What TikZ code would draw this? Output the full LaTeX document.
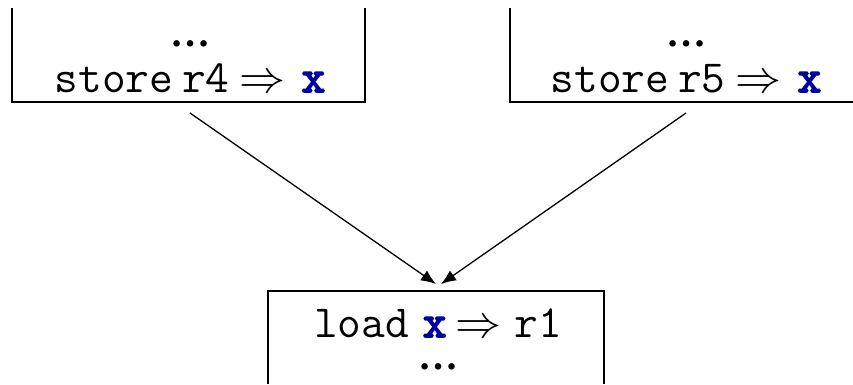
\documentclass[tikz,border=0pt]{standalone}
\usepackage{fontspec}
\newfontfamily\dotsfont{Liberation Serif}
\newfontfamily\boldmono[FakeBold=3.5]{Latin Modern Mono}
\usetikzlibrary{arrows.meta}
\definecolor{varblue}{RGB}{0,0,160}
\newcommand{\vx}{\textcolor{varblue}{\boldmono x}}
\newcommand{\imp}{\scalebox{4.6}{\fontsize{10}{12}\selectfont$\Rightarrow$}}
\newcommand{\dts}{{\fontsize{40}{44}\selectfont\dotsfont\bfseries\symbol{"2026}}}
\begin{document}
\begin{tikzpicture}[x=1pt,y=-1pt,
  frame/.style={line width=2pt},
  code/.style={font=\fontsize{46}{50}\selectfont\ttfamily, inner sep=0pt, align=center, anchor=base},
  flow/.style={line width=1.3pt, -{Latex[length=15pt,width=12pt]}}]
\useasboundingbox (0,0) rectangle (853,384);
% block outlines (open where they run off the page)
\draw[frame] (12,8) -- (12,102) -- (365,102) -- (365,8);
\draw[frame] (510,8) -- (510,102) -- (853,102);
\draw[frame] (268,384) -- (268,291) -- (604,291) -- (604,384);
% block contents
\node[code] (lblock) at (190,92) {\dts\\[-4pt]store\hspace{9pt}r4\hspace{10pt}\imp\hspace{16pt}\vx};
\node[code] (rblock) at (686,92) {\dts\\[-4pt]store\hspace{9pt}r5\hspace{10pt}\imp\hspace{16pt}\vx};
\node[code] (load) at (438,369) {load\hspace{14pt}\vx\hspace{9pt}\imp\hspace{13pt}r1\\[-18pt]\dts};
% edges
\coordinate (lout) at (190,113);
\coordinate (rout) at (686,113);
\coordinate (lin) at (436,284);
\coordinate (rin) at (441,284);
\draw[flow] (lout) -- (lin);
\draw[flow] (rout) -- (rin);
\end{tikzpicture}
\end{document}
